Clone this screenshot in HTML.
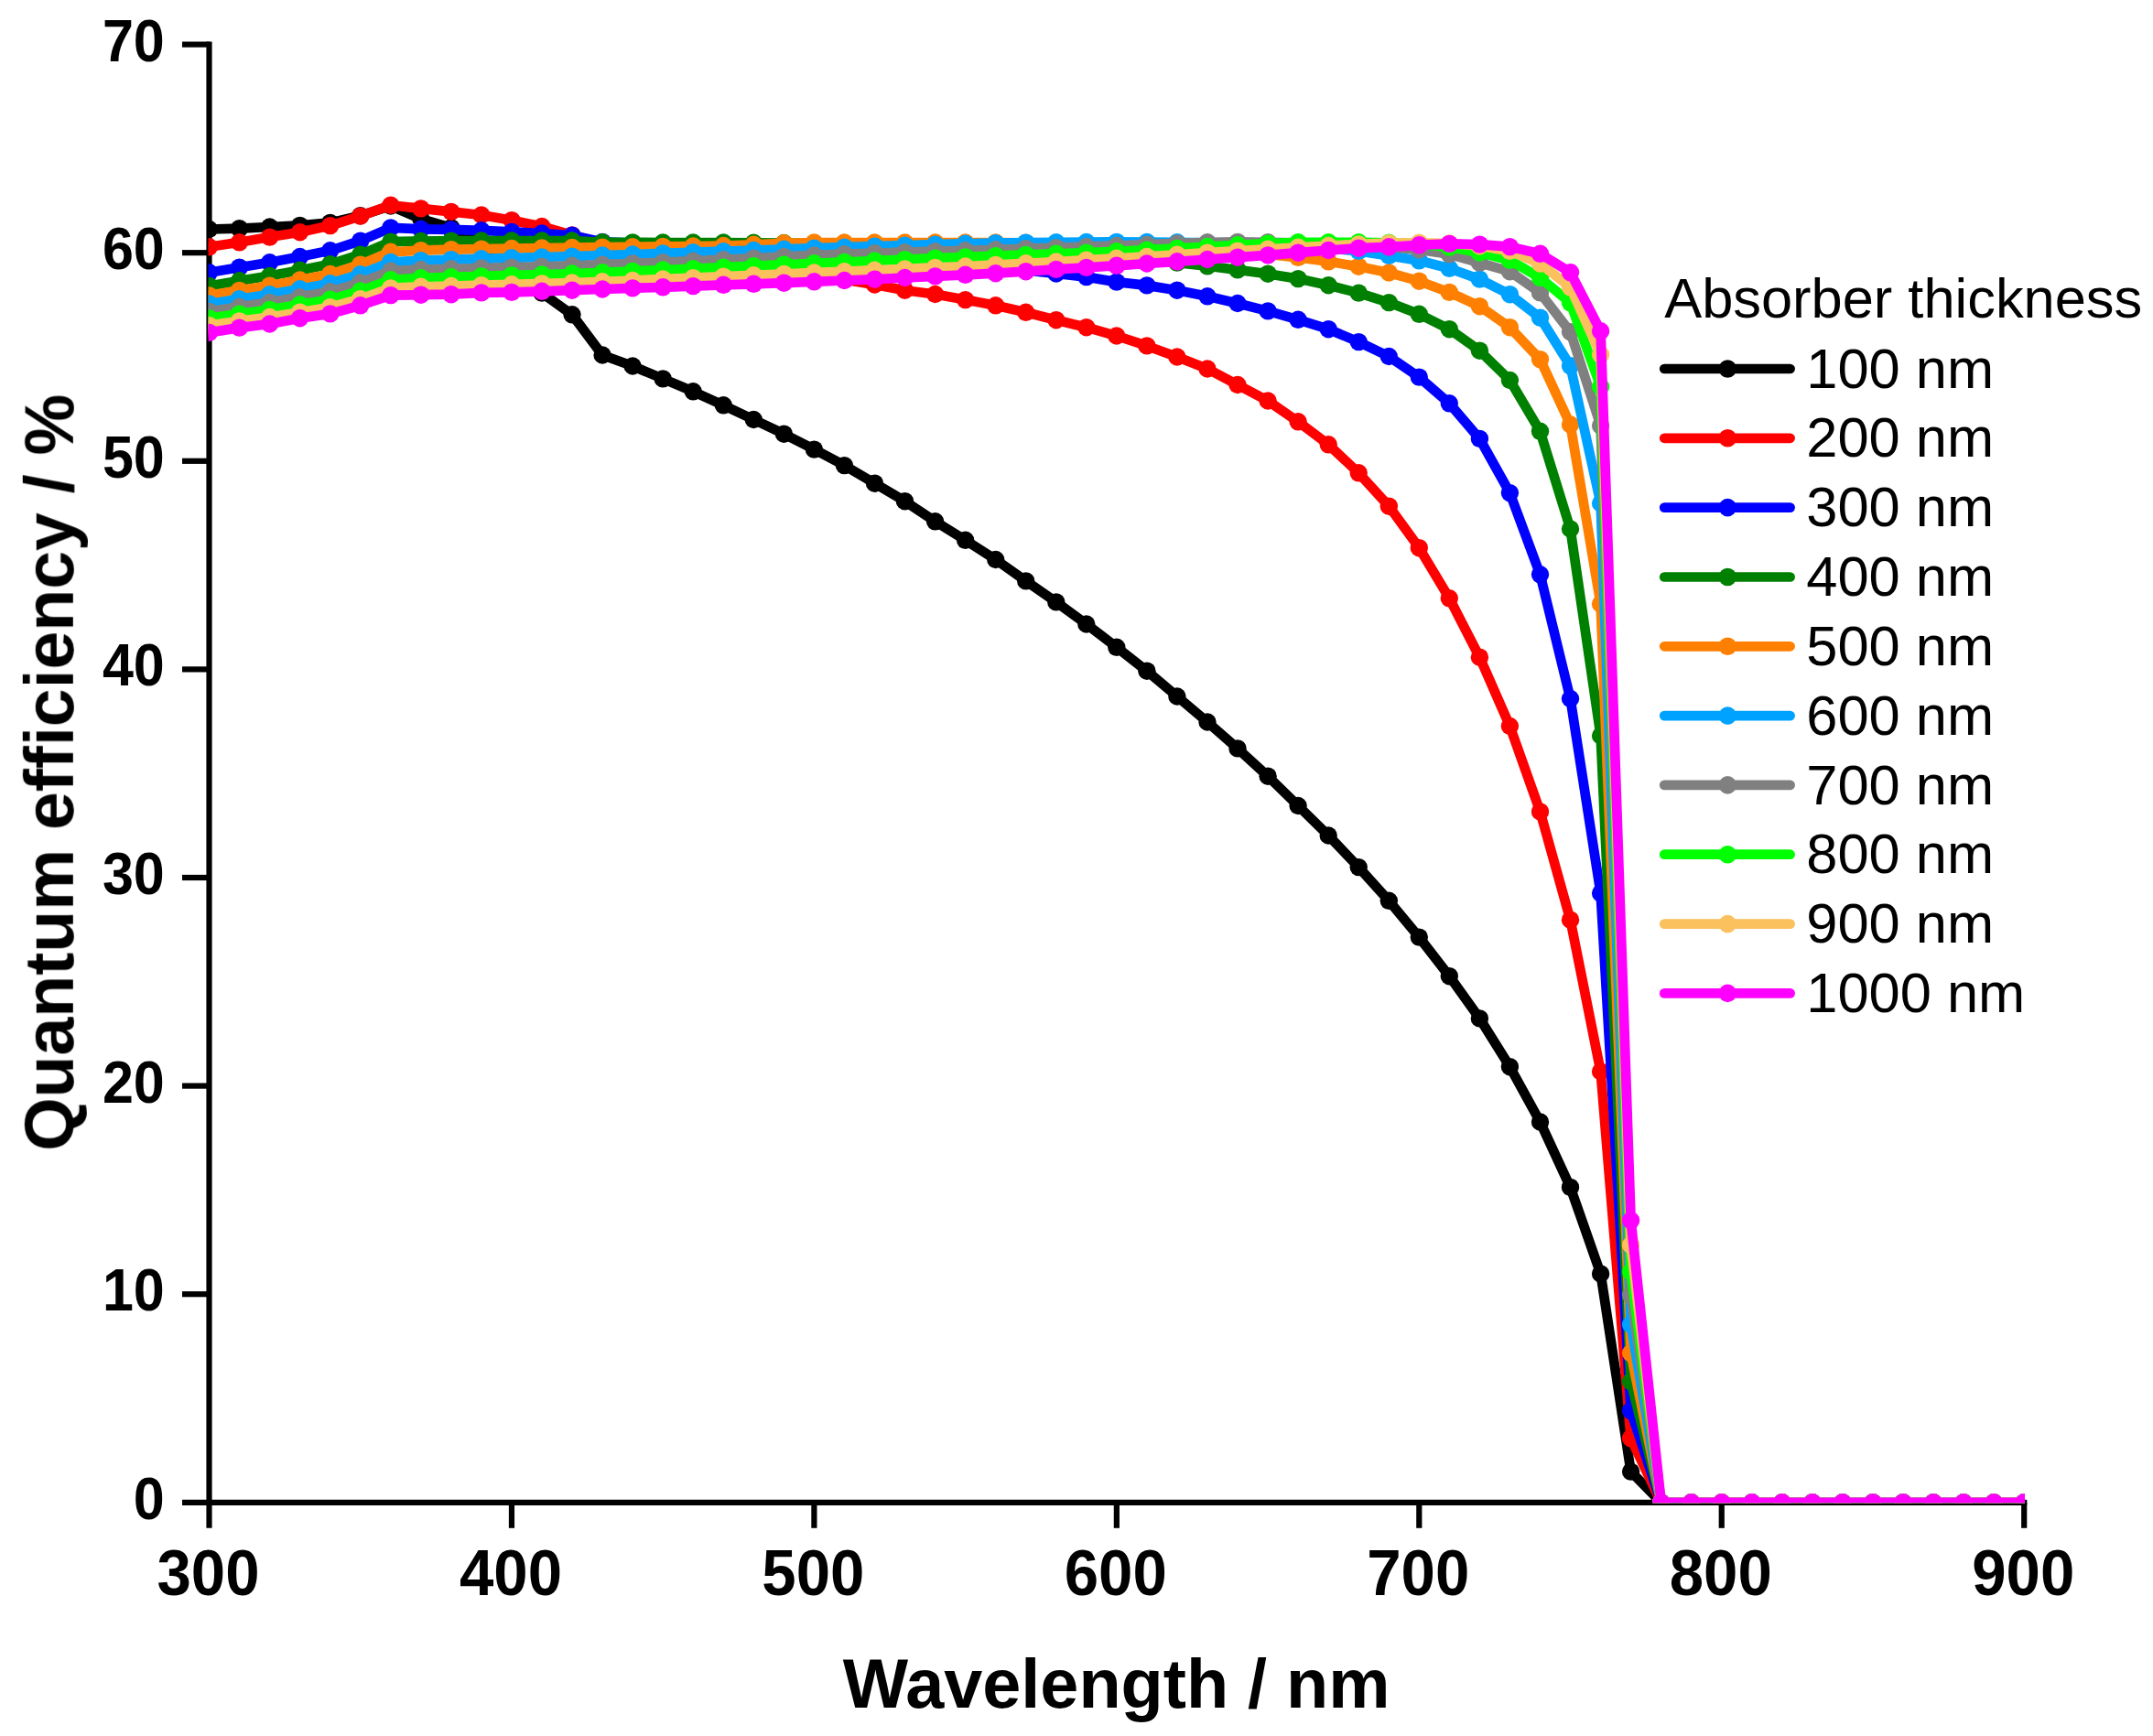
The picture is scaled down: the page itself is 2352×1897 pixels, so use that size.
<!DOCTYPE html>
<html lang="en">
<head>
<meta charset="utf-8">
<title>Quantum efficiency vs wavelength</title>
<style>
html,body{margin:0;padding:0;background:#fff;}
body{width:2352px;height:1897px;overflow:hidden;}
svg{display:block;}
text{font-family:'Liberation Sans', Arial, Helvetica, sans-serif;fill:#000;}
.b{font-weight:700;}
.yt{font-size:62px;text-anchor:end;}
.xt{font-size:69.5px;text-anchor:middle;}
.ttl{font-size:75.6px;text-anchor:middle;}
.lg{font-size:61.4px;}
</style>
</head>
<body>
<svg width="2352" height="1897" viewBox="0 0 2352 1897">
<rect x="0" y="0" width="2352" height="1897" fill="#ffffff"/>
<defs>
<filter id="soft" x="0" y="0" width="2352" height="1897" filterUnits="userSpaceOnUse"><feGaussianBlur stdDeviation="0.7"/></filter>
<clipPath id="plot"><rect x="227.6" y="40" width="1984.4" height="1602.2"/></clipPath>
</defs>

<g filter="url(#soft)">
<g stroke="#000" stroke-width="6.2" fill="none" stroke-linecap="butt">
<path d="M228.50 45.50V1669.80"/>
<path d="M199.00 1641.80H2214.30"/>
<path d="M199.00 1414.20H228.50"/>
<path d="M199.00 1186.60H228.50"/>
<path d="M199.00 959.00H228.50"/>
<path d="M199.00 731.40H228.50"/>
<path d="M199.00 503.80H228.50"/>
<path d="M199.00 276.20H228.50"/>
<path d="M199.00 48.60H228.50"/>
<path d="M558.95 1641.80V1669.80"/>
<path d="M889.40 1641.80V1669.80"/>
<path d="M1219.85 1641.80V1669.80"/>
<path d="M1550.30 1641.80V1669.80"/>
<path d="M1880.75 1641.80V1669.80"/>
<path d="M2211.20 1641.80V1669.80"/>
</g>
<g clip-path="url(#plot)" fill="none" stroke-linejoin="round" stroke-linecap="round">
<g stroke="#000000" fill="#000000">
<path d="M228.5 250.5L261.5 249.6L294.6 248.0L327.6 246.4L360.7 243.4L393.7 235.7L426.8 225.0L459.8 239.1L492.9 248.9L525.9 266.0L559.0 289.9L592.0 320.1L625.0 343.8L658.1 388.0L691.1 400.0L724.2 413.9L757.2 427.8L790.3 442.8L823.3 458.5L856.4 474.2L889.4 491.1L922.4 508.6L955.5 528.2L988.5 547.7L1021.6 569.8L1054.6 590.3L1087.7 611.5L1120.7 634.9L1153.8 657.9L1186.8 682.0L1219.8 707.3L1252.9 733.2L1285.9 761.0L1319.0 789.0L1352.0 817.9L1385.1 848.2L1418.1 880.5L1451.2 913.0L1484.2 947.6L1517.3 984.3L1550.3 1024.1L1583.3 1066.7L1616.4 1112.9L1649.4 1165.7L1682.5 1226.0L1715.5 1297.4L1748.6 1391.9L1781.6 1608.1L1814.7 1641.8L1847.7 1641.8L1880.8 1641.8L1913.8 1641.8L1946.8 1641.8L1979.9 1641.8L2012.9 1641.8L2046.0 1641.8L2079.0 1641.8L2112.1 1641.8L2145.1 1641.8L2178.2 1641.8L2211.2 1641.8" stroke-width="10.7" fill="none"/>
<g stroke="none"><ellipse cx="228.5" cy="250.5" rx="9.7" ry="9.7"/><ellipse cx="261.5" cy="249.6" rx="9.7" ry="9.7"/><ellipse cx="294.6" cy="248.0" rx="9.7" ry="9.7"/><ellipse cx="327.6" cy="246.4" rx="9.7" ry="9.7"/><ellipse cx="360.7" cy="243.4" rx="9.7" ry="9.7"/><ellipse cx="393.7" cy="235.7" rx="9.7" ry="9.7"/><ellipse cx="426.8" cy="225.0" rx="9.7" ry="9.7"/><ellipse cx="459.8" cy="239.1" rx="9.7" ry="9.7"/><ellipse cx="492.9" cy="248.9" rx="9.7" ry="9.7"/><ellipse cx="525.9" cy="266.0" rx="9.7" ry="9.7"/><ellipse cx="559.0" cy="289.9" rx="9.7" ry="9.7"/><ellipse cx="592.0" cy="320.1" rx="9.7" ry="9.7"/><ellipse cx="625.0" cy="343.8" rx="9.7" ry="9.7"/><ellipse cx="658.1" cy="388.0" rx="9.7" ry="9.7"/><ellipse cx="691.1" cy="400.0" rx="9.7" ry="9.7"/><ellipse cx="724.2" cy="413.9" rx="9.7" ry="9.7"/><ellipse cx="757.2" cy="427.8" rx="9.7" ry="9.7"/><ellipse cx="790.3" cy="442.8" rx="9.7" ry="9.7"/><ellipse cx="823.3" cy="458.5" rx="9.7" ry="9.7"/><ellipse cx="856.4" cy="474.2" rx="9.7" ry="9.7"/><ellipse cx="889.4" cy="491.1" rx="9.7" ry="9.7"/><ellipse cx="922.4" cy="508.6" rx="9.7" ry="9.7"/><ellipse cx="955.5" cy="528.2" rx="9.7" ry="9.7"/><ellipse cx="988.5" cy="547.7" rx="9.7" ry="9.7"/><ellipse cx="1021.6" cy="569.8" rx="9.7" ry="9.7"/><ellipse cx="1054.6" cy="590.3" rx="9.7" ry="9.7"/><ellipse cx="1087.7" cy="611.5" rx="9.7" ry="9.7"/><ellipse cx="1120.7" cy="634.9" rx="9.7" ry="9.7"/><ellipse cx="1153.8" cy="657.9" rx="9.7" ry="9.7"/><ellipse cx="1186.8" cy="682.0" rx="9.7" ry="9.7"/><ellipse cx="1219.8" cy="707.3" rx="9.7" ry="9.7"/><ellipse cx="1252.9" cy="733.2" rx="9.7" ry="9.7"/><ellipse cx="1285.9" cy="761.0" rx="9.7" ry="9.7"/><ellipse cx="1319.0" cy="789.0" rx="9.7" ry="9.7"/><ellipse cx="1352.0" cy="817.9" rx="9.7" ry="9.7"/><ellipse cx="1385.1" cy="848.2" rx="9.7" ry="9.7"/><ellipse cx="1418.1" cy="880.5" rx="9.7" ry="9.7"/><ellipse cx="1451.2" cy="913.0" rx="9.7" ry="9.7"/><ellipse cx="1484.2" cy="947.6" rx="9.7" ry="9.7"/><ellipse cx="1517.3" cy="984.3" rx="9.7" ry="9.7"/><ellipse cx="1550.3" cy="1024.1" rx="9.7" ry="9.7"/><ellipse cx="1583.3" cy="1066.7" rx="9.7" ry="9.7"/><ellipse cx="1616.4" cy="1112.9" rx="9.7" ry="9.7"/><ellipse cx="1649.4" cy="1165.7" rx="9.7" ry="9.7"/><ellipse cx="1682.5" cy="1226.0" rx="9.7" ry="9.7"/><ellipse cx="1715.5" cy="1297.4" rx="9.7" ry="9.7"/><ellipse cx="1748.6" cy="1391.9" rx="9.7" ry="9.7"/><ellipse cx="1781.6" cy="1608.1" rx="9.7" ry="9.7"/><ellipse cx="1814.7" cy="1641.8" rx="9.7" ry="9.7"/><ellipse cx="1847.7" cy="1641.8" rx="9.7" ry="9.7"/><ellipse cx="1880.8" cy="1641.8" rx="9.7" ry="9.7"/><ellipse cx="1913.8" cy="1641.8" rx="9.7" ry="9.7"/><ellipse cx="1946.8" cy="1641.8" rx="9.7" ry="9.7"/><ellipse cx="1979.9" cy="1641.8" rx="9.7" ry="9.7"/><ellipse cx="2012.9" cy="1641.8" rx="9.7" ry="9.7"/><ellipse cx="2046.0" cy="1641.8" rx="9.7" ry="9.7"/><ellipse cx="2079.0" cy="1641.8" rx="9.7" ry="9.7"/><ellipse cx="2112.1" cy="1641.8" rx="9.7" ry="9.7"/><ellipse cx="2145.1" cy="1641.8" rx="9.7" ry="9.7"/><ellipse cx="2178.2" cy="1641.8" rx="9.7" ry="9.7"/><ellipse cx="2211.2" cy="1641.8" rx="9.7" ry="9.7"/></g>
</g>
<g stroke="#FF0000" fill="#FF0000">
<path d="M228.5 269.8L261.5 264.8L294.6 259.1L327.6 253.7L360.7 246.6L393.7 236.1L426.8 224.3L459.8 227.9L492.9 231.4L525.9 235.0L559.0 240.7L592.0 247.5L625.0 256.9L658.1 266.0L691.1 272.8L724.2 278.5L757.2 283.0L790.3 287.6L823.3 292.1L856.4 296.7L889.4 301.2L922.4 305.8L955.5 311.0L988.5 317.2L1021.6 321.5L1054.6 327.6L1087.7 333.8L1120.7 341.3L1153.8 349.7L1186.8 357.7L1219.8 367.0L1252.9 377.9L1285.9 390.0L1319.0 403.0L1352.0 420.5L1385.1 438.0L1418.1 460.8L1451.2 485.8L1484.2 516.8L1517.3 553.2L1550.3 598.7L1583.3 653.8L1616.4 718.2L1649.4 793.5L1682.5 886.9L1715.5 1005.2L1748.6 1170.9L1781.6 1571.7L1814.7 1641.8L1847.7 1641.8L1880.8 1641.8L1913.8 1641.8L1946.8 1641.8L1979.9 1641.8L2012.9 1641.8L2046.0 1641.8L2079.0 1641.8L2112.1 1641.8L2145.1 1641.8L2178.2 1641.8L2211.2 1641.8" stroke-width="10.7" fill="none"/>
<g stroke="none"><ellipse cx="228.5" cy="269.8" rx="9.7" ry="9.7"/><ellipse cx="261.5" cy="264.8" rx="9.7" ry="9.7"/><ellipse cx="294.6" cy="259.1" rx="9.7" ry="9.7"/><ellipse cx="327.6" cy="253.7" rx="9.7" ry="9.7"/><ellipse cx="360.7" cy="246.6" rx="9.7" ry="9.7"/><ellipse cx="393.7" cy="236.1" rx="9.7" ry="9.7"/><ellipse cx="426.8" cy="224.3" rx="9.7" ry="9.7"/><ellipse cx="459.8" cy="227.9" rx="9.7" ry="9.7"/><ellipse cx="492.9" cy="231.4" rx="9.7" ry="9.7"/><ellipse cx="525.9" cy="235.0" rx="9.7" ry="9.7"/><ellipse cx="559.0" cy="240.7" rx="9.7" ry="9.7"/><ellipse cx="592.0" cy="247.5" rx="9.7" ry="9.7"/><ellipse cx="625.0" cy="256.9" rx="9.7" ry="9.7"/><ellipse cx="658.1" cy="266.0" rx="9.7" ry="9.7"/><ellipse cx="691.1" cy="272.8" rx="9.7" ry="9.7"/><ellipse cx="724.2" cy="278.5" rx="9.7" ry="9.7"/><ellipse cx="757.2" cy="283.0" rx="9.7" ry="9.7"/><ellipse cx="790.3" cy="287.6" rx="9.7" ry="9.7"/><ellipse cx="823.3" cy="292.1" rx="9.7" ry="9.7"/><ellipse cx="856.4" cy="296.7" rx="9.7" ry="9.7"/><ellipse cx="889.4" cy="301.2" rx="9.7" ry="9.7"/><ellipse cx="922.4" cy="305.8" rx="9.7" ry="9.7"/><ellipse cx="955.5" cy="311.0" rx="9.7" ry="9.7"/><ellipse cx="988.5" cy="317.2" rx="9.7" ry="9.7"/><ellipse cx="1021.6" cy="321.5" rx="9.7" ry="9.7"/><ellipse cx="1054.6" cy="327.6" rx="9.7" ry="9.7"/><ellipse cx="1087.7" cy="333.8" rx="9.7" ry="9.7"/><ellipse cx="1120.7" cy="341.3" rx="9.7" ry="9.7"/><ellipse cx="1153.8" cy="349.7" rx="9.7" ry="9.7"/><ellipse cx="1186.8" cy="357.7" rx="9.7" ry="9.7"/><ellipse cx="1219.8" cy="367.0" rx="9.7" ry="9.7"/><ellipse cx="1252.9" cy="377.9" rx="9.7" ry="9.7"/><ellipse cx="1285.9" cy="390.0" rx="9.7" ry="9.7"/><ellipse cx="1319.0" cy="403.0" rx="9.7" ry="9.7"/><ellipse cx="1352.0" cy="420.5" rx="9.7" ry="9.7"/><ellipse cx="1385.1" cy="438.0" rx="9.7" ry="9.7"/><ellipse cx="1418.1" cy="460.8" rx="9.7" ry="9.7"/><ellipse cx="1451.2" cy="485.8" rx="9.7" ry="9.7"/><ellipse cx="1484.2" cy="516.8" rx="9.7" ry="9.7"/><ellipse cx="1517.3" cy="553.2" rx="9.7" ry="9.7"/><ellipse cx="1550.3" cy="598.7" rx="9.7" ry="9.7"/><ellipse cx="1583.3" cy="653.8" rx="9.7" ry="9.7"/><ellipse cx="1616.4" cy="718.2" rx="9.7" ry="9.7"/><ellipse cx="1649.4" cy="793.5" rx="9.7" ry="9.7"/><ellipse cx="1682.5" cy="886.9" rx="9.7" ry="9.7"/><ellipse cx="1715.5" cy="1005.2" rx="9.7" ry="9.7"/><ellipse cx="1748.6" cy="1170.9" rx="9.7" ry="9.7"/><ellipse cx="1781.6" cy="1571.7" rx="9.7" ry="9.7"/><ellipse cx="1814.7" cy="1641.8" rx="9.7" ry="9.7"/><ellipse cx="1847.7" cy="1641.8" rx="9.7" ry="9.7"/><ellipse cx="1880.8" cy="1641.8" rx="9.7" ry="9.7"/><ellipse cx="1913.8" cy="1641.8" rx="9.7" ry="9.7"/><ellipse cx="1946.8" cy="1641.8" rx="9.7" ry="9.7"/><ellipse cx="1979.9" cy="1641.8" rx="9.7" ry="9.7"/><ellipse cx="2012.9" cy="1641.8" rx="9.7" ry="9.7"/><ellipse cx="2046.0" cy="1641.8" rx="9.7" ry="9.7"/><ellipse cx="2079.0" cy="1641.8" rx="9.7" ry="9.7"/><ellipse cx="2112.1" cy="1641.8" rx="9.7" ry="9.7"/><ellipse cx="2145.1" cy="1641.8" rx="9.7" ry="9.7"/><ellipse cx="2178.2" cy="1641.8" rx="9.7" ry="9.7"/><ellipse cx="2211.2" cy="1641.8" rx="9.7" ry="9.7"/></g>
</g>
<g stroke="#0000FF" fill="#0000FF">
<path d="M228.5 297.8L261.5 292.2L294.6 286.8L327.6 280.5L360.7 273.8L393.7 263.1L426.8 248.9L459.8 250.3L492.9 250.9L525.9 251.8L559.0 253.4L592.0 255.0L625.0 257.3L658.1 264.4L691.1 265.7L724.2 267.1L757.2 268.7L790.3 270.3L823.3 272.3L856.4 274.4L889.4 276.7L922.4 278.9L955.5 281.4L988.5 283.9L1021.6 286.7L1054.6 289.4L1087.7 292.4L1120.7 295.5L1153.8 299.0L1186.8 302.6L1219.8 308.1L1252.9 311.9L1285.9 317.2L1319.0 323.8L1352.0 331.5L1385.1 339.9L1418.1 349.3L1451.2 359.7L1484.2 373.6L1517.3 389.5L1550.3 412.1L1583.3 440.8L1616.4 479.4L1649.4 538.6L1682.5 627.8L1715.5 763.5L1748.6 976.1L1781.6 1541.7L1814.7 1641.8L1847.7 1641.8L1880.8 1641.8L1913.8 1641.8L1946.8 1641.8L1979.9 1641.8L2012.9 1641.8L2046.0 1641.8L2079.0 1641.8L2112.1 1641.8L2145.1 1641.8L2178.2 1641.8L2211.2 1641.8" stroke-width="10.7" fill="none"/>
<g stroke="none"><ellipse cx="228.5" cy="297.8" rx="9.7" ry="9.7"/><ellipse cx="261.5" cy="292.2" rx="9.7" ry="9.7"/><ellipse cx="294.6" cy="286.8" rx="9.7" ry="9.7"/><ellipse cx="327.6" cy="280.5" rx="9.7" ry="9.7"/><ellipse cx="360.7" cy="273.8" rx="9.7" ry="9.7"/><ellipse cx="393.7" cy="263.1" rx="9.7" ry="9.7"/><ellipse cx="426.8" cy="248.9" rx="9.7" ry="9.7"/><ellipse cx="459.8" cy="250.3" rx="9.7" ry="9.7"/><ellipse cx="492.9" cy="250.9" rx="9.7" ry="9.7"/><ellipse cx="525.9" cy="251.8" rx="9.7" ry="9.7"/><ellipse cx="559.0" cy="253.4" rx="9.7" ry="9.7"/><ellipse cx="592.0" cy="255.0" rx="9.7" ry="9.7"/><ellipse cx="625.0" cy="257.3" rx="9.7" ry="9.7"/><ellipse cx="658.1" cy="264.4" rx="9.7" ry="9.7"/><ellipse cx="691.1" cy="265.7" rx="9.7" ry="9.7"/><ellipse cx="724.2" cy="267.1" rx="9.7" ry="9.7"/><ellipse cx="757.2" cy="268.7" rx="9.7" ry="9.7"/><ellipse cx="790.3" cy="270.3" rx="9.7" ry="9.7"/><ellipse cx="823.3" cy="272.3" rx="9.7" ry="9.7"/><ellipse cx="856.4" cy="274.4" rx="9.7" ry="9.7"/><ellipse cx="889.4" cy="276.7" rx="9.7" ry="9.7"/><ellipse cx="922.4" cy="278.9" rx="9.7" ry="9.7"/><ellipse cx="955.5" cy="281.4" rx="9.7" ry="9.7"/><ellipse cx="988.5" cy="283.9" rx="9.7" ry="9.7"/><ellipse cx="1021.6" cy="286.7" rx="9.7" ry="9.7"/><ellipse cx="1054.6" cy="289.4" rx="9.7" ry="9.7"/><ellipse cx="1087.7" cy="292.4" rx="9.7" ry="9.7"/><ellipse cx="1120.7" cy="295.5" rx="9.7" ry="9.7"/><ellipse cx="1153.8" cy="299.0" rx="9.7" ry="9.7"/><ellipse cx="1186.8" cy="302.6" rx="9.7" ry="9.7"/><ellipse cx="1219.8" cy="308.1" rx="9.7" ry="9.7"/><ellipse cx="1252.9" cy="311.9" rx="9.7" ry="9.7"/><ellipse cx="1285.9" cy="317.2" rx="9.7" ry="9.7"/><ellipse cx="1319.0" cy="323.8" rx="9.7" ry="9.7"/><ellipse cx="1352.0" cy="331.5" rx="9.7" ry="9.7"/><ellipse cx="1385.1" cy="339.9" rx="9.7" ry="9.7"/><ellipse cx="1418.1" cy="349.3" rx="9.7" ry="9.7"/><ellipse cx="1451.2" cy="359.7" rx="9.7" ry="9.7"/><ellipse cx="1484.2" cy="373.6" rx="9.7" ry="9.7"/><ellipse cx="1517.3" cy="389.5" rx="9.7" ry="9.7"/><ellipse cx="1550.3" cy="412.1" rx="9.7" ry="9.7"/><ellipse cx="1583.3" cy="440.8" rx="9.7" ry="9.7"/><ellipse cx="1616.4" cy="479.4" rx="9.7" ry="9.7"/><ellipse cx="1649.4" cy="538.6" rx="9.7" ry="9.7"/><ellipse cx="1682.5" cy="627.8" rx="9.7" ry="9.7"/><ellipse cx="1715.5" cy="763.5" rx="9.7" ry="9.7"/><ellipse cx="1748.6" cy="976.1" rx="9.7" ry="9.7"/><ellipse cx="1781.6" cy="1541.7" rx="9.7" ry="9.7"/><ellipse cx="1814.7" cy="1641.8" rx="9.7" ry="9.7"/><ellipse cx="1847.7" cy="1641.8" rx="9.7" ry="9.7"/><ellipse cx="1880.8" cy="1641.8" rx="9.7" ry="9.7"/><ellipse cx="1913.8" cy="1641.8" rx="9.7" ry="9.7"/><ellipse cx="1946.8" cy="1641.8" rx="9.7" ry="9.7"/><ellipse cx="1979.9" cy="1641.8" rx="9.7" ry="9.7"/><ellipse cx="2012.9" cy="1641.8" rx="9.7" ry="9.7"/><ellipse cx="2046.0" cy="1641.8" rx="9.7" ry="9.7"/><ellipse cx="2079.0" cy="1641.8" rx="9.7" ry="9.7"/><ellipse cx="2112.1" cy="1641.8" rx="9.7" ry="9.7"/><ellipse cx="2145.1" cy="1641.8" rx="9.7" ry="9.7"/><ellipse cx="2178.2" cy="1641.8" rx="9.7" ry="9.7"/><ellipse cx="2211.2" cy="1641.8" rx="9.7" ry="9.7"/></g>
</g>
<g stroke="#008000" fill="#008000">
<path d="M228.5 312.4L261.5 306.8L294.6 301.5L327.6 295.3L360.7 288.7L393.7 278.1L426.8 264.1L459.8 263.5L492.9 263.1L525.9 263.0L559.0 263.0L592.0 263.0L625.0 263.0L658.1 264.8L691.1 264.9L724.2 265.0L757.2 265.0L790.3 265.0L823.3 265.3L856.4 265.5L889.4 266.0L922.4 266.6L955.5 267.6L988.5 268.5L1021.6 269.6L1054.6 271.0L1087.7 272.6L1120.7 274.4L1153.8 276.4L1186.8 278.7L1219.8 281.2L1252.9 283.9L1285.9 287.1L1319.0 290.8L1352.0 294.9L1385.1 299.2L1418.1 304.6L1451.2 311.7L1484.2 320.1L1517.3 330.6L1550.3 343.3L1583.3 359.7L1616.4 383.2L1649.4 415.5L1682.5 471.3L1715.5 578.0L1748.6 804.0L1781.6 1509.6L1814.7 1641.8L1847.7 1641.8L1880.8 1641.8L1913.8 1641.8L1946.8 1641.8L1979.9 1641.8L2012.9 1641.8L2046.0 1641.8L2079.0 1641.8L2112.1 1641.8L2145.1 1641.8L2178.2 1641.8L2211.2 1641.8" stroke-width="10.7" fill="none"/>
<g stroke="none"><ellipse cx="228.5" cy="312.4" rx="9.7" ry="9.7"/><ellipse cx="261.5" cy="306.8" rx="9.7" ry="9.7"/><ellipse cx="294.6" cy="301.5" rx="9.7" ry="9.7"/><ellipse cx="327.6" cy="295.3" rx="9.7" ry="9.7"/><ellipse cx="360.7" cy="288.7" rx="9.7" ry="9.7"/><ellipse cx="393.7" cy="278.1" rx="9.7" ry="9.7"/><ellipse cx="426.8" cy="264.1" rx="9.7" ry="9.7"/><ellipse cx="459.8" cy="263.5" rx="9.7" ry="9.7"/><ellipse cx="492.9" cy="263.1" rx="9.7" ry="9.7"/><ellipse cx="525.9" cy="263.0" rx="9.7" ry="9.7"/><ellipse cx="559.0" cy="263.0" rx="9.7" ry="9.7"/><ellipse cx="592.0" cy="263.0" rx="9.7" ry="9.7"/><ellipse cx="625.0" cy="263.0" rx="9.7" ry="9.7"/><ellipse cx="658.1" cy="264.8" rx="9.7" ry="9.7"/><ellipse cx="691.1" cy="264.9" rx="9.7" ry="9.7"/><ellipse cx="724.2" cy="265.0" rx="9.7" ry="9.7"/><ellipse cx="757.2" cy="265.0" rx="9.7" ry="9.7"/><ellipse cx="790.3" cy="265.0" rx="9.7" ry="9.7"/><ellipse cx="823.3" cy="265.3" rx="9.7" ry="9.7"/><ellipse cx="856.4" cy="265.5" rx="9.7" ry="9.7"/><ellipse cx="889.4" cy="266.0" rx="9.7" ry="9.7"/><ellipse cx="922.4" cy="266.6" rx="9.7" ry="9.7"/><ellipse cx="955.5" cy="267.6" rx="9.7" ry="9.7"/><ellipse cx="988.5" cy="268.5" rx="9.7" ry="9.7"/><ellipse cx="1021.6" cy="269.6" rx="9.7" ry="9.7"/><ellipse cx="1054.6" cy="271.0" rx="9.7" ry="9.7"/><ellipse cx="1087.7" cy="272.6" rx="9.7" ry="9.7"/><ellipse cx="1120.7" cy="274.4" rx="9.7" ry="9.7"/><ellipse cx="1153.8" cy="276.4" rx="9.7" ry="9.7"/><ellipse cx="1186.8" cy="278.7" rx="9.7" ry="9.7"/><ellipse cx="1219.8" cy="281.2" rx="9.7" ry="9.7"/><ellipse cx="1252.9" cy="283.9" rx="9.7" ry="9.7"/><ellipse cx="1285.9" cy="287.1" rx="9.7" ry="9.7"/><ellipse cx="1319.0" cy="290.8" rx="9.7" ry="9.7"/><ellipse cx="1352.0" cy="294.9" rx="9.7" ry="9.7"/><ellipse cx="1385.1" cy="299.2" rx="9.7" ry="9.7"/><ellipse cx="1418.1" cy="304.6" rx="9.7" ry="9.7"/><ellipse cx="1451.2" cy="311.7" rx="9.7" ry="9.7"/><ellipse cx="1484.2" cy="320.1" rx="9.7" ry="9.7"/><ellipse cx="1517.3" cy="330.6" rx="9.7" ry="9.7"/><ellipse cx="1550.3" cy="343.3" rx="9.7" ry="9.7"/><ellipse cx="1583.3" cy="359.7" rx="9.7" ry="9.7"/><ellipse cx="1616.4" cy="383.2" rx="9.7" ry="9.7"/><ellipse cx="1649.4" cy="415.5" rx="9.7" ry="9.7"/><ellipse cx="1682.5" cy="471.3" rx="9.7" ry="9.7"/><ellipse cx="1715.5" cy="578.0" rx="9.7" ry="9.7"/><ellipse cx="1748.6" cy="804.0" rx="9.7" ry="9.7"/><ellipse cx="1781.6" cy="1509.6" rx="9.7" ry="9.7"/><ellipse cx="1814.7" cy="1641.8" rx="9.7" ry="9.7"/><ellipse cx="1847.7" cy="1641.8" rx="9.7" ry="9.7"/><ellipse cx="1880.8" cy="1641.8" rx="9.7" ry="9.7"/><ellipse cx="1913.8" cy="1641.8" rx="9.7" ry="9.7"/><ellipse cx="1946.8" cy="1641.8" rx="9.7" ry="9.7"/><ellipse cx="1979.9" cy="1641.8" rx="9.7" ry="9.7"/><ellipse cx="2012.9" cy="1641.8" rx="9.7" ry="9.7"/><ellipse cx="2046.0" cy="1641.8" rx="9.7" ry="9.7"/><ellipse cx="2079.0" cy="1641.8" rx="9.7" ry="9.7"/><ellipse cx="2112.1" cy="1641.8" rx="9.7" ry="9.7"/><ellipse cx="2145.1" cy="1641.8" rx="9.7" ry="9.7"/><ellipse cx="2178.2" cy="1641.8" rx="9.7" ry="9.7"/><ellipse cx="2211.2" cy="1641.8" rx="9.7" ry="9.7"/></g>
</g>
<g stroke="#FF8000" fill="#FF8000">
<path d="M228.5 322.9L261.5 317.4L294.6 312.2L327.6 306.0L360.7 299.5L393.7 289.1L426.8 275.3L459.8 273.6L492.9 272.7L525.9 272.1L559.0 271.5L592.0 271.0L625.0 270.5L658.1 270.1L691.1 269.8L724.2 269.4L757.2 269.0L790.3 268.5L823.3 267.3L856.4 265.8L889.4 265.0L922.4 265.0L955.5 265.0L988.5 265.0L1021.6 265.0L1054.6 265.0L1087.7 265.0L1120.7 265.3L1153.8 265.7L1186.8 266.4L1219.8 267.3L1252.9 268.7L1285.9 270.3L1319.0 272.3L1352.0 274.8L1385.1 277.8L1418.1 281.4L1451.2 285.8L1484.2 291.2L1517.3 298.0L1550.3 307.2L1583.3 319.4L1616.4 334.7L1649.4 357.7L1682.5 392.7L1715.5 464.0L1748.6 659.9L1781.6 1478.6L1814.7 1641.8L1847.7 1641.8L1880.8 1641.8L1913.8 1641.8L1946.8 1641.8L1979.9 1641.8L2012.9 1641.8L2046.0 1641.8L2079.0 1641.8L2112.1 1641.8L2145.1 1641.8L2178.2 1641.8L2211.2 1641.8" stroke-width="10.7" fill="none"/>
<g stroke="none"><ellipse cx="228.5" cy="322.9" rx="9.7" ry="9.7"/><ellipse cx="261.5" cy="317.4" rx="9.7" ry="9.7"/><ellipse cx="294.6" cy="312.2" rx="9.7" ry="9.7"/><ellipse cx="327.6" cy="306.0" rx="9.7" ry="9.7"/><ellipse cx="360.7" cy="299.5" rx="9.7" ry="9.7"/><ellipse cx="393.7" cy="289.1" rx="9.7" ry="9.7"/><ellipse cx="426.8" cy="275.3" rx="9.7" ry="9.7"/><ellipse cx="459.8" cy="273.6" rx="9.7" ry="9.7"/><ellipse cx="492.9" cy="272.7" rx="9.7" ry="9.7"/><ellipse cx="525.9" cy="272.1" rx="9.7" ry="9.7"/><ellipse cx="559.0" cy="271.5" rx="9.7" ry="9.7"/><ellipse cx="592.0" cy="271.0" rx="9.7" ry="9.7"/><ellipse cx="625.0" cy="270.5" rx="9.7" ry="9.7"/><ellipse cx="658.1" cy="270.1" rx="9.7" ry="9.7"/><ellipse cx="691.1" cy="269.8" rx="9.7" ry="9.7"/><ellipse cx="724.2" cy="269.4" rx="9.7" ry="9.7"/><ellipse cx="757.2" cy="269.0" rx="9.7" ry="9.7"/><ellipse cx="790.3" cy="268.5" rx="9.7" ry="9.7"/><ellipse cx="823.3" cy="267.3" rx="9.7" ry="9.7"/><ellipse cx="856.4" cy="265.8" rx="9.7" ry="9.7"/><ellipse cx="889.4" cy="265.0" rx="9.7" ry="9.7"/><ellipse cx="922.4" cy="265.0" rx="9.7" ry="9.7"/><ellipse cx="955.5" cy="265.0" rx="9.7" ry="9.7"/><ellipse cx="988.5" cy="265.0" rx="9.7" ry="9.7"/><ellipse cx="1021.6" cy="265.0" rx="9.7" ry="9.7"/><ellipse cx="1054.6" cy="265.0" rx="9.7" ry="9.7"/><ellipse cx="1087.7" cy="265.0" rx="9.7" ry="9.7"/><ellipse cx="1120.7" cy="265.3" rx="9.7" ry="9.7"/><ellipse cx="1153.8" cy="265.7" rx="9.7" ry="9.7"/><ellipse cx="1186.8" cy="266.4" rx="9.7" ry="9.7"/><ellipse cx="1219.8" cy="267.3" rx="9.7" ry="9.7"/><ellipse cx="1252.9" cy="268.7" rx="9.7" ry="9.7"/><ellipse cx="1285.9" cy="270.3" rx="9.7" ry="9.7"/><ellipse cx="1319.0" cy="272.3" rx="9.7" ry="9.7"/><ellipse cx="1352.0" cy="274.8" rx="9.7" ry="9.7"/><ellipse cx="1385.1" cy="277.8" rx="9.7" ry="9.7"/><ellipse cx="1418.1" cy="281.4" rx="9.7" ry="9.7"/><ellipse cx="1451.2" cy="285.8" rx="9.7" ry="9.7"/><ellipse cx="1484.2" cy="291.2" rx="9.7" ry="9.7"/><ellipse cx="1517.3" cy="298.0" rx="9.7" ry="9.7"/><ellipse cx="1550.3" cy="307.2" rx="9.7" ry="9.7"/><ellipse cx="1583.3" cy="319.4" rx="9.7" ry="9.7"/><ellipse cx="1616.4" cy="334.7" rx="9.7" ry="9.7"/><ellipse cx="1649.4" cy="357.7" rx="9.7" ry="9.7"/><ellipse cx="1682.5" cy="392.7" rx="9.7" ry="9.7"/><ellipse cx="1715.5" cy="464.0" rx="9.7" ry="9.7"/><ellipse cx="1748.6" cy="659.9" rx="9.7" ry="9.7"/><ellipse cx="1781.6" cy="1478.6" rx="9.7" ry="9.7"/><ellipse cx="1814.7" cy="1641.8" rx="9.7" ry="9.7"/><ellipse cx="1847.7" cy="1641.8" rx="9.7" ry="9.7"/><ellipse cx="1880.8" cy="1641.8" rx="9.7" ry="9.7"/><ellipse cx="1913.8" cy="1641.8" rx="9.7" ry="9.7"/><ellipse cx="1946.8" cy="1641.8" rx="9.7" ry="9.7"/><ellipse cx="1979.9" cy="1641.8" rx="9.7" ry="9.7"/><ellipse cx="2012.9" cy="1641.8" rx="9.7" ry="9.7"/><ellipse cx="2046.0" cy="1641.8" rx="9.7" ry="9.7"/><ellipse cx="2079.0" cy="1641.8" rx="9.7" ry="9.7"/><ellipse cx="2112.1" cy="1641.8" rx="9.7" ry="9.7"/><ellipse cx="2145.1" cy="1641.8" rx="9.7" ry="9.7"/><ellipse cx="2178.2" cy="1641.8" rx="9.7" ry="9.7"/><ellipse cx="2211.2" cy="1641.8" rx="9.7" ry="9.7"/></g>
</g>
<g stroke="#00A2FF" fill="#00A2FF">
<path d="M228.5 332.0L261.5 326.7L294.6 321.7L327.6 315.8L360.7 309.7L393.7 299.6L426.8 286.4L459.8 284.6L492.9 283.6L525.9 282.8L559.0 281.8L592.0 281.0L625.0 280.1L658.1 279.0L691.1 278.0L724.2 276.9L757.2 275.7L790.3 274.6L823.3 273.5L856.4 272.3L889.4 271.2L922.4 270.1L955.5 269.1L988.5 268.1L1021.6 267.1L1054.6 266.3L1087.7 265.7L1120.7 265.2L1153.8 264.8L1186.8 264.5L1219.8 264.4L1252.9 264.5L1285.9 264.8L1319.0 265.3L1352.0 266.0L1385.1 267.1L1418.1 268.7L1451.2 271.2L1484.2 274.4L1517.3 279.4L1550.3 284.8L1583.3 293.3L1616.4 305.1L1649.4 321.7L1682.5 347.2L1715.5 399.8L1748.6 550.0L1781.6 1447.4L1814.7 1641.8L1847.7 1641.8L1880.8 1641.8L1913.8 1641.8L1946.8 1641.8L1979.9 1641.8L2012.9 1641.8L2046.0 1641.8L2079.0 1641.8L2112.1 1641.8L2145.1 1641.8L2178.2 1641.8L2211.2 1641.8" stroke-width="10.7" fill="none"/>
<g stroke="none"><ellipse cx="228.5" cy="332.0" rx="9.7" ry="9.7"/><ellipse cx="261.5" cy="326.7" rx="9.7" ry="9.7"/><ellipse cx="294.6" cy="321.7" rx="9.7" ry="9.7"/><ellipse cx="327.6" cy="315.8" rx="9.7" ry="9.7"/><ellipse cx="360.7" cy="309.7" rx="9.7" ry="9.7"/><ellipse cx="393.7" cy="299.6" rx="9.7" ry="9.7"/><ellipse cx="426.8" cy="286.4" rx="9.7" ry="9.7"/><ellipse cx="459.8" cy="284.6" rx="9.7" ry="9.7"/><ellipse cx="492.9" cy="283.6" rx="9.7" ry="9.7"/><ellipse cx="525.9" cy="282.8" rx="9.7" ry="9.7"/><ellipse cx="559.0" cy="281.8" rx="9.7" ry="9.7"/><ellipse cx="592.0" cy="281.0" rx="9.7" ry="9.7"/><ellipse cx="625.0" cy="280.1" rx="9.7" ry="9.7"/><ellipse cx="658.1" cy="279.0" rx="9.7" ry="9.7"/><ellipse cx="691.1" cy="278.0" rx="9.7" ry="9.7"/><ellipse cx="724.2" cy="276.9" rx="9.7" ry="9.7"/><ellipse cx="757.2" cy="275.7" rx="9.7" ry="9.7"/><ellipse cx="790.3" cy="274.6" rx="9.7" ry="9.7"/><ellipse cx="823.3" cy="273.5" rx="9.7" ry="9.7"/><ellipse cx="856.4" cy="272.3" rx="9.7" ry="9.7"/><ellipse cx="889.4" cy="271.2" rx="9.7" ry="9.7"/><ellipse cx="922.4" cy="270.1" rx="9.7" ry="9.7"/><ellipse cx="955.5" cy="269.1" rx="9.7" ry="9.7"/><ellipse cx="988.5" cy="268.1" rx="9.7" ry="9.7"/><ellipse cx="1021.6" cy="267.1" rx="9.7" ry="9.7"/><ellipse cx="1054.6" cy="266.3" rx="9.7" ry="9.7"/><ellipse cx="1087.7" cy="265.7" rx="9.7" ry="9.7"/><ellipse cx="1120.7" cy="265.2" rx="9.7" ry="9.7"/><ellipse cx="1153.8" cy="264.8" rx="9.7" ry="9.7"/><ellipse cx="1186.8" cy="264.5" rx="9.7" ry="9.7"/><ellipse cx="1219.8" cy="264.4" rx="9.7" ry="9.7"/><ellipse cx="1252.9" cy="264.5" rx="9.7" ry="9.7"/><ellipse cx="1285.9" cy="264.8" rx="9.7" ry="9.7"/><ellipse cx="1319.0" cy="265.3" rx="9.7" ry="9.7"/><ellipse cx="1352.0" cy="266.0" rx="9.7" ry="9.7"/><ellipse cx="1385.1" cy="267.1" rx="9.7" ry="9.7"/><ellipse cx="1418.1" cy="268.7" rx="9.7" ry="9.7"/><ellipse cx="1451.2" cy="271.2" rx="9.7" ry="9.7"/><ellipse cx="1484.2" cy="274.4" rx="9.7" ry="9.7"/><ellipse cx="1517.3" cy="279.4" rx="9.7" ry="9.7"/><ellipse cx="1550.3" cy="284.8" rx="9.7" ry="9.7"/><ellipse cx="1583.3" cy="293.3" rx="9.7" ry="9.7"/><ellipse cx="1616.4" cy="305.1" rx="9.7" ry="9.7"/><ellipse cx="1649.4" cy="321.7" rx="9.7" ry="9.7"/><ellipse cx="1682.5" cy="347.2" rx="9.7" ry="9.7"/><ellipse cx="1715.5" cy="399.8" rx="9.7" ry="9.7"/><ellipse cx="1748.6" cy="550.0" rx="9.7" ry="9.7"/><ellipse cx="1781.6" cy="1447.4" rx="9.7" ry="9.7"/><ellipse cx="1814.7" cy="1641.8" rx="9.7" ry="9.7"/><ellipse cx="1847.7" cy="1641.8" rx="9.7" ry="9.7"/><ellipse cx="1880.8" cy="1641.8" rx="9.7" ry="9.7"/><ellipse cx="1913.8" cy="1641.8" rx="9.7" ry="9.7"/><ellipse cx="1946.8" cy="1641.8" rx="9.7" ry="9.7"/><ellipse cx="1979.9" cy="1641.8" rx="9.7" ry="9.7"/><ellipse cx="2012.9" cy="1641.8" rx="9.7" ry="9.7"/><ellipse cx="2046.0" cy="1641.8" rx="9.7" ry="9.7"/><ellipse cx="2079.0" cy="1641.8" rx="9.7" ry="9.7"/><ellipse cx="2112.1" cy="1641.8" rx="9.7" ry="9.7"/><ellipse cx="2145.1" cy="1641.8" rx="9.7" ry="9.7"/><ellipse cx="2178.2" cy="1641.8" rx="9.7" ry="9.7"/><ellipse cx="2211.2" cy="1641.8" rx="9.7" ry="9.7"/></g>
</g>
<g stroke="#808080" fill="#808080">
<path d="M228.5 340.4L261.5 335.3L294.6 330.4L327.6 324.6L360.7 318.6L393.7 308.9L426.8 296.0L459.8 294.5L492.9 293.8L525.9 293.0L559.0 292.1L592.0 291.3L625.0 290.3L658.1 289.2L691.1 287.9L724.2 286.6L757.2 285.2L790.3 283.7L823.3 282.1L856.4 280.4L889.4 278.9L922.4 277.7L955.5 276.7L988.5 275.7L1021.6 274.7L1054.6 273.8L1087.7 272.8L1120.7 271.7L1153.8 270.6L1186.8 269.5L1219.8 268.5L1252.9 267.2L1285.9 265.9L1319.0 264.8L1352.0 264.4L1385.1 264.8L1418.1 265.3L1451.2 266.0L1484.2 267.6L1517.3 269.8L1550.3 273.0L1583.3 277.8L1616.4 287.1L1649.4 296.7L1682.5 319.9L1715.5 362.7L1748.6 465.1L1781.6 1415.3L1814.7 1641.8L1847.7 1641.8L1880.8 1641.8L1913.8 1641.8L1946.8 1641.8L1979.9 1641.8L2012.9 1641.8L2046.0 1641.8L2079.0 1641.8L2112.1 1641.8L2145.1 1641.8L2178.2 1641.8L2211.2 1641.8" stroke-width="10.7" fill="none"/>
<g stroke="none"><ellipse cx="228.5" cy="340.4" rx="9.7" ry="9.7"/><ellipse cx="261.5" cy="335.3" rx="9.7" ry="9.7"/><ellipse cx="294.6" cy="330.4" rx="9.7" ry="9.7"/><ellipse cx="327.6" cy="324.6" rx="9.7" ry="9.7"/><ellipse cx="360.7" cy="318.6" rx="9.7" ry="9.7"/><ellipse cx="393.7" cy="308.9" rx="9.7" ry="9.7"/><ellipse cx="426.8" cy="296.0" rx="9.7" ry="9.7"/><ellipse cx="459.8" cy="294.5" rx="9.7" ry="9.7"/><ellipse cx="492.9" cy="293.8" rx="9.7" ry="9.7"/><ellipse cx="525.9" cy="293.0" rx="9.7" ry="9.7"/><ellipse cx="559.0" cy="292.1" rx="9.7" ry="9.7"/><ellipse cx="592.0" cy="291.3" rx="9.7" ry="9.7"/><ellipse cx="625.0" cy="290.3" rx="9.7" ry="9.7"/><ellipse cx="658.1" cy="289.2" rx="9.7" ry="9.7"/><ellipse cx="691.1" cy="287.9" rx="9.7" ry="9.7"/><ellipse cx="724.2" cy="286.6" rx="9.7" ry="9.7"/><ellipse cx="757.2" cy="285.2" rx="9.7" ry="9.7"/><ellipse cx="790.3" cy="283.7" rx="9.7" ry="9.7"/><ellipse cx="823.3" cy="282.1" rx="9.7" ry="9.7"/><ellipse cx="856.4" cy="280.4" rx="9.7" ry="9.7"/><ellipse cx="889.4" cy="278.9" rx="9.7" ry="9.7"/><ellipse cx="922.4" cy="277.7" rx="9.7" ry="9.7"/><ellipse cx="955.5" cy="276.7" rx="9.7" ry="9.7"/><ellipse cx="988.5" cy="275.7" rx="9.7" ry="9.7"/><ellipse cx="1021.6" cy="274.7" rx="9.7" ry="9.7"/><ellipse cx="1054.6" cy="273.8" rx="9.7" ry="9.7"/><ellipse cx="1087.7" cy="272.8" rx="9.7" ry="9.7"/><ellipse cx="1120.7" cy="271.7" rx="9.7" ry="9.7"/><ellipse cx="1153.8" cy="270.6" rx="9.7" ry="9.7"/><ellipse cx="1186.8" cy="269.5" rx="9.7" ry="9.7"/><ellipse cx="1219.8" cy="268.5" rx="9.7" ry="9.7"/><ellipse cx="1252.9" cy="267.2" rx="9.7" ry="9.7"/><ellipse cx="1285.9" cy="265.9" rx="9.7" ry="9.7"/><ellipse cx="1319.0" cy="264.8" rx="9.7" ry="9.7"/><ellipse cx="1352.0" cy="264.4" rx="9.7" ry="9.7"/><ellipse cx="1385.1" cy="264.8" rx="9.7" ry="9.7"/><ellipse cx="1418.1" cy="265.3" rx="9.7" ry="9.7"/><ellipse cx="1451.2" cy="266.0" rx="9.7" ry="9.7"/><ellipse cx="1484.2" cy="267.6" rx="9.7" ry="9.7"/><ellipse cx="1517.3" cy="269.8" rx="9.7" ry="9.7"/><ellipse cx="1550.3" cy="273.0" rx="9.7" ry="9.7"/><ellipse cx="1583.3" cy="277.8" rx="9.7" ry="9.7"/><ellipse cx="1616.4" cy="287.1" rx="9.7" ry="9.7"/><ellipse cx="1649.4" cy="296.7" rx="9.7" ry="9.7"/><ellipse cx="1682.5" cy="319.9" rx="9.7" ry="9.7"/><ellipse cx="1715.5" cy="362.7" rx="9.7" ry="9.7"/><ellipse cx="1748.6" cy="465.1" rx="9.7" ry="9.7"/><ellipse cx="1781.6" cy="1415.3" rx="9.7" ry="9.7"/><ellipse cx="1814.7" cy="1641.8" rx="9.7" ry="9.7"/><ellipse cx="1847.7" cy="1641.8" rx="9.7" ry="9.7"/><ellipse cx="1880.8" cy="1641.8" rx="9.7" ry="9.7"/><ellipse cx="1913.8" cy="1641.8" rx="9.7" ry="9.7"/><ellipse cx="1946.8" cy="1641.8" rx="9.7" ry="9.7"/><ellipse cx="1979.9" cy="1641.8" rx="9.7" ry="9.7"/><ellipse cx="2012.9" cy="1641.8" rx="9.7" ry="9.7"/><ellipse cx="2046.0" cy="1641.8" rx="9.7" ry="9.7"/><ellipse cx="2079.0" cy="1641.8" rx="9.7" ry="9.7"/><ellipse cx="2112.1" cy="1641.8" rx="9.7" ry="9.7"/><ellipse cx="2145.1" cy="1641.8" rx="9.7" ry="9.7"/><ellipse cx="2178.2" cy="1641.8" rx="9.7" ry="9.7"/><ellipse cx="2211.2" cy="1641.8" rx="9.7" ry="9.7"/></g>
</g>
<g stroke="#00FF00" fill="#00FF00">
<path d="M228.5 347.9L261.5 343.1L294.6 338.4L327.6 332.9L360.7 327.3L393.7 318.0L426.8 305.8L459.8 303.8L492.9 302.8L525.9 301.9L559.0 300.9L592.0 300.0L625.0 299.0L658.1 297.8L691.1 296.4L724.2 295.0L757.2 293.6L790.3 292.1L823.3 290.7L856.4 289.2L889.4 287.8L922.4 286.4L955.5 285.0L988.5 283.6L1021.6 282.2L1054.6 280.9L1087.7 279.6L1120.7 278.4L1153.8 277.3L1186.8 276.1L1219.8 274.8L1252.9 273.2L1285.9 271.4L1319.0 269.5L1352.0 267.8L1385.1 266.2L1418.1 264.8L1451.2 264.8L1484.2 264.8L1517.3 265.3L1550.3 266.6L1583.3 270.1L1616.4 276.0L1649.4 284.4L1682.5 303.5L1715.5 330.8L1748.6 422.5L1781.6 1389.8L1814.7 1641.8L1847.7 1641.8L1880.8 1641.8L1913.8 1641.8L1946.8 1641.8L1979.9 1641.8L2012.9 1641.8L2046.0 1641.8L2079.0 1641.8L2112.1 1641.8L2145.1 1641.8L2178.2 1641.8L2211.2 1641.8" stroke-width="10.7" fill="none"/>
<g stroke="none"><ellipse cx="228.5" cy="347.9" rx="9.7" ry="9.7"/><ellipse cx="261.5" cy="343.1" rx="9.7" ry="9.7"/><ellipse cx="294.6" cy="338.4" rx="9.7" ry="9.7"/><ellipse cx="327.6" cy="332.9" rx="9.7" ry="9.7"/><ellipse cx="360.7" cy="327.3" rx="9.7" ry="9.7"/><ellipse cx="393.7" cy="318.0" rx="9.7" ry="9.7"/><ellipse cx="426.8" cy="305.8" rx="9.7" ry="9.7"/><ellipse cx="459.8" cy="303.8" rx="9.7" ry="9.7"/><ellipse cx="492.9" cy="302.8" rx="9.7" ry="9.7"/><ellipse cx="525.9" cy="301.9" rx="9.7" ry="9.7"/><ellipse cx="559.0" cy="300.9" rx="9.7" ry="9.7"/><ellipse cx="592.0" cy="300.0" rx="9.7" ry="9.7"/><ellipse cx="625.0" cy="299.0" rx="9.7" ry="9.7"/><ellipse cx="658.1" cy="297.8" rx="9.7" ry="9.7"/><ellipse cx="691.1" cy="296.4" rx="9.7" ry="9.7"/><ellipse cx="724.2" cy="295.0" rx="9.7" ry="9.7"/><ellipse cx="757.2" cy="293.6" rx="9.7" ry="9.7"/><ellipse cx="790.3" cy="292.1" rx="9.7" ry="9.7"/><ellipse cx="823.3" cy="290.7" rx="9.7" ry="9.7"/><ellipse cx="856.4" cy="289.2" rx="9.7" ry="9.7"/><ellipse cx="889.4" cy="287.8" rx="9.7" ry="9.7"/><ellipse cx="922.4" cy="286.4" rx="9.7" ry="9.7"/><ellipse cx="955.5" cy="285.0" rx="9.7" ry="9.7"/><ellipse cx="988.5" cy="283.6" rx="9.7" ry="9.7"/><ellipse cx="1021.6" cy="282.2" rx="9.7" ry="9.7"/><ellipse cx="1054.6" cy="280.9" rx="9.7" ry="9.7"/><ellipse cx="1087.7" cy="279.6" rx="9.7" ry="9.7"/><ellipse cx="1120.7" cy="278.4" rx="9.7" ry="9.7"/><ellipse cx="1153.8" cy="277.3" rx="9.7" ry="9.7"/><ellipse cx="1186.8" cy="276.1" rx="9.7" ry="9.7"/><ellipse cx="1219.8" cy="274.8" rx="9.7" ry="9.7"/><ellipse cx="1252.9" cy="273.2" rx="9.7" ry="9.7"/><ellipse cx="1285.9" cy="271.4" rx="9.7" ry="9.7"/><ellipse cx="1319.0" cy="269.5" rx="9.7" ry="9.7"/><ellipse cx="1352.0" cy="267.8" rx="9.7" ry="9.7"/><ellipse cx="1385.1" cy="266.2" rx="9.7" ry="9.7"/><ellipse cx="1418.1" cy="264.8" rx="9.7" ry="9.7"/><ellipse cx="1451.2" cy="264.8" rx="9.7" ry="9.7"/><ellipse cx="1484.2" cy="264.8" rx="9.7" ry="9.7"/><ellipse cx="1517.3" cy="265.3" rx="9.7" ry="9.7"/><ellipse cx="1550.3" cy="266.6" rx="9.7" ry="9.7"/><ellipse cx="1583.3" cy="270.1" rx="9.7" ry="9.7"/><ellipse cx="1616.4" cy="276.0" rx="9.7" ry="9.7"/><ellipse cx="1649.4" cy="284.4" rx="9.7" ry="9.7"/><ellipse cx="1682.5" cy="303.5" rx="9.7" ry="9.7"/><ellipse cx="1715.5" cy="330.8" rx="9.7" ry="9.7"/><ellipse cx="1748.6" cy="422.5" rx="9.7" ry="9.7"/><ellipse cx="1781.6" cy="1389.8" rx="9.7" ry="9.7"/><ellipse cx="1814.7" cy="1641.8" rx="9.7" ry="9.7"/><ellipse cx="1847.7" cy="1641.8" rx="9.7" ry="9.7"/><ellipse cx="1880.8" cy="1641.8" rx="9.7" ry="9.7"/><ellipse cx="1913.8" cy="1641.8" rx="9.7" ry="9.7"/><ellipse cx="1946.8" cy="1641.8" rx="9.7" ry="9.7"/><ellipse cx="1979.9" cy="1641.8" rx="9.7" ry="9.7"/><ellipse cx="2012.9" cy="1641.8" rx="9.7" ry="9.7"/><ellipse cx="2046.0" cy="1641.8" rx="9.7" ry="9.7"/><ellipse cx="2079.0" cy="1641.8" rx="9.7" ry="9.7"/><ellipse cx="2112.1" cy="1641.8" rx="9.7" ry="9.7"/><ellipse cx="2145.1" cy="1641.8" rx="9.7" ry="9.7"/><ellipse cx="2178.2" cy="1641.8" rx="9.7" ry="9.7"/><ellipse cx="2211.2" cy="1641.8" rx="9.7" ry="9.7"/></g>
</g>
<g stroke="#FBC15E" fill="#FBC15E">
<path d="M228.5 355.6L261.5 350.9L294.6 346.5L327.6 341.2L360.7 335.7L393.7 326.7L426.8 314.9L459.8 313.3L492.9 312.5L525.9 311.7L559.0 310.8L592.0 309.9L625.0 309.0L658.1 307.8L691.1 306.5L724.2 305.0L757.2 303.6L790.3 302.1L823.3 300.8L856.4 299.4L889.4 298.0L922.4 296.7L955.5 295.3L988.5 293.9L1021.6 292.4L1054.6 291.0L1087.7 289.4L1120.7 287.8L1153.8 286.0L1186.8 284.2L1219.8 282.3L1252.9 280.4L1285.9 278.3L1319.0 276.1L1352.0 274.2L1385.1 272.3L1418.1 270.3L1451.2 268.5L1484.2 266.9L1517.3 265.7L1550.3 265.3L1583.3 266.0L1616.4 268.7L1649.4 274.4L1682.5 288.0L1715.5 313.8L1748.6 387.5L1781.6 1360.5L1814.7 1641.8L1847.7 1641.8L1880.8 1641.8L1913.8 1641.8L1946.8 1641.8L1979.9 1641.8L2012.9 1641.8L2046.0 1641.8L2079.0 1641.8L2112.1 1641.8L2145.1 1641.8L2178.2 1641.8L2211.2 1641.8" stroke-width="10.7" fill="none"/>
<g stroke="none"><ellipse cx="228.5" cy="355.6" rx="9.7" ry="9.7"/><ellipse cx="261.5" cy="350.9" rx="9.7" ry="9.7"/><ellipse cx="294.6" cy="346.5" rx="9.7" ry="9.7"/><ellipse cx="327.6" cy="341.2" rx="9.7" ry="9.7"/><ellipse cx="360.7" cy="335.7" rx="9.7" ry="9.7"/><ellipse cx="393.7" cy="326.7" rx="9.7" ry="9.7"/><ellipse cx="426.8" cy="314.9" rx="9.7" ry="9.7"/><ellipse cx="459.8" cy="313.3" rx="9.7" ry="9.7"/><ellipse cx="492.9" cy="312.5" rx="9.7" ry="9.7"/><ellipse cx="525.9" cy="311.7" rx="9.7" ry="9.7"/><ellipse cx="559.0" cy="310.8" rx="9.7" ry="9.7"/><ellipse cx="592.0" cy="309.9" rx="9.7" ry="9.7"/><ellipse cx="625.0" cy="309.0" rx="9.7" ry="9.7"/><ellipse cx="658.1" cy="307.8" rx="9.7" ry="9.7"/><ellipse cx="691.1" cy="306.5" rx="9.7" ry="9.7"/><ellipse cx="724.2" cy="305.0" rx="9.7" ry="9.7"/><ellipse cx="757.2" cy="303.6" rx="9.7" ry="9.7"/><ellipse cx="790.3" cy="302.1" rx="9.7" ry="9.7"/><ellipse cx="823.3" cy="300.8" rx="9.7" ry="9.7"/><ellipse cx="856.4" cy="299.4" rx="9.7" ry="9.7"/><ellipse cx="889.4" cy="298.0" rx="9.7" ry="9.7"/><ellipse cx="922.4" cy="296.7" rx="9.7" ry="9.7"/><ellipse cx="955.5" cy="295.3" rx="9.7" ry="9.7"/><ellipse cx="988.5" cy="293.9" rx="9.7" ry="9.7"/><ellipse cx="1021.6" cy="292.4" rx="9.7" ry="9.7"/><ellipse cx="1054.6" cy="291.0" rx="9.7" ry="9.7"/><ellipse cx="1087.7" cy="289.4" rx="9.7" ry="9.7"/><ellipse cx="1120.7" cy="287.8" rx="9.7" ry="9.7"/><ellipse cx="1153.8" cy="286.0" rx="9.7" ry="9.7"/><ellipse cx="1186.8" cy="284.2" rx="9.7" ry="9.7"/><ellipse cx="1219.8" cy="282.3" rx="9.7" ry="9.7"/><ellipse cx="1252.9" cy="280.4" rx="9.7" ry="9.7"/><ellipse cx="1285.9" cy="278.3" rx="9.7" ry="9.7"/><ellipse cx="1319.0" cy="276.1" rx="9.7" ry="9.7"/><ellipse cx="1352.0" cy="274.2" rx="9.7" ry="9.7"/><ellipse cx="1385.1" cy="272.3" rx="9.7" ry="9.7"/><ellipse cx="1418.1" cy="270.3" rx="9.7" ry="9.7"/><ellipse cx="1451.2" cy="268.5" rx="9.7" ry="9.7"/><ellipse cx="1484.2" cy="266.9" rx="9.7" ry="9.7"/><ellipse cx="1517.3" cy="265.7" rx="9.7" ry="9.7"/><ellipse cx="1550.3" cy="265.3" rx="9.7" ry="9.7"/><ellipse cx="1583.3" cy="266.0" rx="9.7" ry="9.7"/><ellipse cx="1616.4" cy="268.7" rx="9.7" ry="9.7"/><ellipse cx="1649.4" cy="274.4" rx="9.7" ry="9.7"/><ellipse cx="1682.5" cy="288.0" rx="9.7" ry="9.7"/><ellipse cx="1715.5" cy="313.8" rx="9.7" ry="9.7"/><ellipse cx="1748.6" cy="387.5" rx="9.7" ry="9.7"/><ellipse cx="1781.6" cy="1360.5" rx="9.7" ry="9.7"/><ellipse cx="1814.7" cy="1641.8" rx="9.7" ry="9.7"/><ellipse cx="1847.7" cy="1641.8" rx="9.7" ry="9.7"/><ellipse cx="1880.8" cy="1641.8" rx="9.7" ry="9.7"/><ellipse cx="1913.8" cy="1641.8" rx="9.7" ry="9.7"/><ellipse cx="1946.8" cy="1641.8" rx="9.7" ry="9.7"/><ellipse cx="1979.9" cy="1641.8" rx="9.7" ry="9.7"/><ellipse cx="2012.9" cy="1641.8" rx="9.7" ry="9.7"/><ellipse cx="2046.0" cy="1641.8" rx="9.7" ry="9.7"/><ellipse cx="2079.0" cy="1641.8" rx="9.7" ry="9.7"/><ellipse cx="2112.1" cy="1641.8" rx="9.7" ry="9.7"/><ellipse cx="2145.1" cy="1641.8" rx="9.7" ry="9.7"/><ellipse cx="2178.2" cy="1641.8" rx="9.7" ry="9.7"/><ellipse cx="2211.2" cy="1641.8" rx="9.7" ry="9.7"/></g>
</g>
<g stroke="#FF00FF" fill="#FF00FF">
<path d="M228.5 363.4L261.5 358.1L294.6 354.0L327.6 347.7L360.7 342.9L393.7 333.8L426.8 322.6L459.8 322.2L492.9 321.7L525.9 319.9L559.0 319.4L592.0 318.3L625.0 317.2L658.1 316.0L691.1 314.9L724.2 313.8L757.2 312.6L790.3 311.3L823.3 310.3L856.4 309.2L889.4 307.8L922.4 306.5L955.5 305.1L988.5 303.5L1021.6 301.9L1054.6 300.3L1087.7 298.7L1120.7 296.7L1153.8 294.4L1186.8 292.4L1219.8 290.3L1252.9 288.0L1285.9 285.8L1319.0 283.5L1352.0 281.2L1385.1 278.9L1418.1 276.2L1451.2 273.5L1484.2 271.2L1517.3 269.8L1550.3 267.8L1583.3 266.4L1616.4 267.1L1649.4 269.6L1682.5 277.3L1715.5 297.6L1748.6 361.8L1781.6 1333.6L1814.7 1641.8L1847.7 1641.8L1880.8 1641.8L1913.8 1641.8L1946.8 1641.8L1979.9 1641.8L2012.9 1641.8L2046.0 1641.8L2079.0 1641.8L2112.1 1641.8L2145.1 1641.8L2178.2 1641.8L2211.2 1641.8" stroke-width="10.7" fill="none"/>
<g stroke="none"><ellipse cx="228.5" cy="363.4" rx="9.7" ry="9.7"/><ellipse cx="261.5" cy="358.1" rx="9.7" ry="9.7"/><ellipse cx="294.6" cy="354.0" rx="9.7" ry="9.7"/><ellipse cx="327.6" cy="347.7" rx="9.7" ry="9.7"/><ellipse cx="360.7" cy="342.9" rx="9.7" ry="9.7"/><ellipse cx="393.7" cy="333.8" rx="9.7" ry="9.7"/><ellipse cx="426.8" cy="322.6" rx="9.7" ry="9.7"/><ellipse cx="459.8" cy="322.2" rx="9.7" ry="9.7"/><ellipse cx="492.9" cy="321.7" rx="9.7" ry="9.7"/><ellipse cx="525.9" cy="319.9" rx="9.7" ry="9.7"/><ellipse cx="559.0" cy="319.4" rx="9.7" ry="9.7"/><ellipse cx="592.0" cy="318.3" rx="9.7" ry="9.7"/><ellipse cx="625.0" cy="317.2" rx="9.7" ry="9.7"/><ellipse cx="658.1" cy="316.0" rx="9.7" ry="9.7"/><ellipse cx="691.1" cy="314.9" rx="9.7" ry="9.7"/><ellipse cx="724.2" cy="313.8" rx="9.7" ry="9.7"/><ellipse cx="757.2" cy="312.6" rx="9.7" ry="9.7"/><ellipse cx="790.3" cy="311.3" rx="9.7" ry="9.7"/><ellipse cx="823.3" cy="310.3" rx="9.7" ry="9.7"/><ellipse cx="856.4" cy="309.2" rx="9.7" ry="9.7"/><ellipse cx="889.4" cy="307.8" rx="9.7" ry="9.7"/><ellipse cx="922.4" cy="306.5" rx="9.7" ry="9.7"/><ellipse cx="955.5" cy="305.1" rx="9.7" ry="9.7"/><ellipse cx="988.5" cy="303.5" rx="9.7" ry="9.7"/><ellipse cx="1021.6" cy="301.9" rx="9.7" ry="9.7"/><ellipse cx="1054.6" cy="300.3" rx="9.7" ry="9.7"/><ellipse cx="1087.7" cy="298.7" rx="9.7" ry="9.7"/><ellipse cx="1120.7" cy="296.7" rx="9.7" ry="9.7"/><ellipse cx="1153.8" cy="294.4" rx="9.7" ry="9.7"/><ellipse cx="1186.8" cy="292.4" rx="9.7" ry="9.7"/><ellipse cx="1219.8" cy="290.3" rx="9.7" ry="9.7"/><ellipse cx="1252.9" cy="288.0" rx="9.7" ry="9.7"/><ellipse cx="1285.9" cy="285.8" rx="9.7" ry="9.7"/><ellipse cx="1319.0" cy="283.5" rx="9.7" ry="9.7"/><ellipse cx="1352.0" cy="281.2" rx="9.7" ry="9.7"/><ellipse cx="1385.1" cy="278.9" rx="9.7" ry="9.7"/><ellipse cx="1418.1" cy="276.2" rx="9.7" ry="9.7"/><ellipse cx="1451.2" cy="273.5" rx="9.7" ry="9.7"/><ellipse cx="1484.2" cy="271.2" rx="9.7" ry="9.7"/><ellipse cx="1517.3" cy="269.8" rx="9.7" ry="9.7"/><ellipse cx="1550.3" cy="267.8" rx="9.7" ry="9.7"/><ellipse cx="1583.3" cy="266.4" rx="9.7" ry="9.7"/><ellipse cx="1616.4" cy="267.1" rx="9.7" ry="9.7"/><ellipse cx="1649.4" cy="269.6" rx="9.7" ry="9.7"/><ellipse cx="1682.5" cy="277.3" rx="9.7" ry="9.7"/><ellipse cx="1715.5" cy="297.6" rx="9.7" ry="9.7"/><ellipse cx="1748.6" cy="361.8" rx="9.7" ry="9.7"/><ellipse cx="1781.6" cy="1333.6" rx="9.7" ry="9.7"/><ellipse cx="1814.7" cy="1641.8" rx="9.7" ry="9.7"/><ellipse cx="1847.7" cy="1641.8" rx="9.7" ry="9.7"/><ellipse cx="1880.8" cy="1641.8" rx="9.7" ry="9.7"/><ellipse cx="1913.8" cy="1641.8" rx="9.7" ry="9.7"/><ellipse cx="1946.8" cy="1641.8" rx="9.7" ry="9.7"/><ellipse cx="1979.9" cy="1641.8" rx="9.7" ry="9.7"/><ellipse cx="2012.9" cy="1641.8" rx="9.7" ry="9.7"/><ellipse cx="2046.0" cy="1641.8" rx="9.7" ry="9.7"/><ellipse cx="2079.0" cy="1641.8" rx="9.7" ry="9.7"/><ellipse cx="2112.1" cy="1641.8" rx="9.7" ry="9.7"/><ellipse cx="2145.1" cy="1641.8" rx="9.7" ry="9.7"/><ellipse cx="2178.2" cy="1641.8" rx="9.7" ry="9.7"/><ellipse cx="2211.2" cy="1641.8" rx="9.7" ry="9.7"/></g>
</g>
</g>
<g class="b">
<text class="yt" transform="translate(179.8 1659.8) scale(0.985 1.045)">0</text>
<text class="yt" transform="translate(179.8 1432.2) scale(0.985 1.045)">10</text>
<text class="yt" transform="translate(179.8 1204.6) scale(0.985 1.045)">20</text>
<text class="yt" transform="translate(179.8 977.0) scale(0.985 1.045)">30</text>
<text class="yt" transform="translate(179.8 749.4) scale(0.985 1.045)">40</text>
<text class="yt" transform="translate(179.8 521.8) scale(0.985 1.045)">50</text>
<text class="yt" transform="translate(179.8 294.2) scale(0.985 1.045)">60</text>
<text class="yt" transform="translate(179.8 66.6) scale(0.985 1.045)">70</text>
<text class="xt" transform="translate(227.5 1743.4) scale(0.967 1.01)">300</text>
<text class="xt" transform="translate(558.0 1743.4) scale(0.967 1.01)">400</text>
<text class="xt" transform="translate(888.4 1743.4) scale(0.967 1.01)">500</text>
<text class="xt" transform="translate(1218.8 1743.4) scale(0.967 1.01)">600</text>
<text class="xt" transform="translate(1549.3 1743.4) scale(0.967 1.01)">700</text>
<text class="xt" transform="translate(1879.8 1743.4) scale(0.967 1.01)">800</text>
<text class="xt" transform="translate(2210.2 1743.4) scale(0.967 1.01)">900</text>
<text class="ttl" x="1219.6" y="1865.8">Wavelength / nm</text>
<text class="ttl" style="font-size:75.2px" transform="translate(79.8 844.3) rotate(-90)" x="0" y="0">Quantum efficiency / %</text>
</g>
<g class="lg">
<text x="1818.2" y="347">Absorber thickness</text>
<path d="M1818.2 403.0H1955.6" stroke="#000000" stroke-width="10.7" stroke-linecap="round" fill="none"/>
<ellipse cx="1887.3" cy="403.0" rx="9.7" ry="9.8" fill="#000000"/>
<text x="1973.3" y="423.6">100 nm</text>
<path d="M1818.2 478.8H1955.6" stroke="#FF0000" stroke-width="10.7" stroke-linecap="round" fill="none"/>
<ellipse cx="1887.3" cy="478.8" rx="9.7" ry="9.8" fill="#FF0000"/>
<text x="1973.3" y="499.4">200 nm</text>
<path d="M1818.2 554.6H1955.6" stroke="#0000FF" stroke-width="10.7" stroke-linecap="round" fill="none"/>
<ellipse cx="1887.3" cy="554.6" rx="9.7" ry="9.8" fill="#0000FF"/>
<text x="1973.3" y="575.2">300 nm</text>
<path d="M1818.2 630.5H1955.6" stroke="#008000" stroke-width="10.7" stroke-linecap="round" fill="none"/>
<ellipse cx="1887.3" cy="630.5" rx="9.7" ry="9.8" fill="#008000"/>
<text x="1973.3" y="651.1">400 nm</text>
<path d="M1818.2 706.3H1955.6" stroke="#FF8000" stroke-width="10.7" stroke-linecap="round" fill="none"/>
<ellipse cx="1887.3" cy="706.3" rx="9.7" ry="9.8" fill="#FF8000"/>
<text x="1973.3" y="726.9">500 nm</text>
<path d="M1818.2 782.1H1955.6" stroke="#00A2FF" stroke-width="10.7" stroke-linecap="round" fill="none"/>
<ellipse cx="1887.3" cy="782.1" rx="9.7" ry="9.8" fill="#00A2FF"/>
<text x="1973.3" y="802.7">600 nm</text>
<path d="M1818.2 857.9H1955.6" stroke="#808080" stroke-width="10.7" stroke-linecap="round" fill="none"/>
<ellipse cx="1887.3" cy="857.9" rx="9.7" ry="9.8" fill="#808080"/>
<text x="1973.3" y="878.5">700 nm</text>
<path d="M1818.2 933.7H1955.6" stroke="#00FF00" stroke-width="10.7" stroke-linecap="round" fill="none"/>
<ellipse cx="1887.3" cy="933.7" rx="9.7" ry="9.8" fill="#00FF00"/>
<text x="1973.3" y="954.3">800 nm</text>
<path d="M1818.2 1009.6H1955.6" stroke="#FBC15E" stroke-width="10.7" stroke-linecap="round" fill="none"/>
<ellipse cx="1887.3" cy="1009.6" rx="9.7" ry="9.8" fill="#FBC15E"/>
<text x="1973.3" y="1030.2">900 nm</text>
<path d="M1818.2 1085.4H1955.6" stroke="#FF00FF" stroke-width="10.7" stroke-linecap="round" fill="none"/>
<ellipse cx="1887.3" cy="1085.4" rx="9.7" ry="9.8" fill="#FF00FF"/>
<text x="1973.3" y="1106.0">1000 nm</text>
</g>
</g>
</svg>
</body>
</html>
